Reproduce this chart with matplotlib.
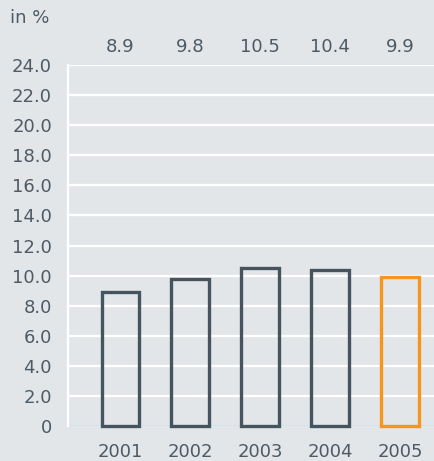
import matplotlib.pyplot as plt

years = ["2001", "2002", "2003", "2004", "2005"]
values = [8.9, 9.8, 10.5, 10.4, 9.9]
labels = ["8.9", "9.8", "10.5", "10.4", "9.9"]
yticks = [0, 2, 4, 6, 8, 10, 12, 14, 16, 18, 20, 22, 24]
ytick_labels = ["0"] + [f"{t:.1f}" for t in yticks[1:]]

bg = '#e3e6e9'
dark = '#45545e'
orange = '#f7941d'
text_col = '#4e5a64'

fig = plt.figure(figsize=(4.35, 4.61), dpi=100, facecolor=bg)
ax = fig.add_axes([68/435, 1 - 426/461, 1 - 68/435, (426 - 65)/461])
ax.set_facecolor(bg)

x = list(range(len(years)))
colors = [dark] * 4 + [orange]
bars = ax.bar(x, values, width=0.54, facecolor='none', edgecolor=colors, linewidth=2.4, zorder=3)
for b in bars:
    b.set_clip_on(False)

ax.set_ylim(0, 24)
ax.set_xlim(-0.75, 4.5)
ax.set_yticks(yticks)
ax.set_yticklabels(ytick_labels)
ax.set_xticks(x)
ax.set_xticklabels(years)
ax.tick_params(length=0, labelsize=13, colors=text_col)
ax.tick_params(axis='y', pad=11.5)
ax.tick_params(axis='x', pad=12)

for t in yticks[1:]:
    ax.axhline(t, color='white', linewidth=1.6, zorder=1)
ax.axhline(0, color='#cfe3ee', linewidth=1.2, zorder=2)

for s in ['top', 'right', 'bottom']:
    ax.spines[s].set_visible(False)
ax.spines['left'].set_color('white')
ax.spines['left'].set_linewidth(1.6)

for xi, lab in zip(x, labels):
    ax.text(xi, 25.2, lab, ha='center', va='center', fontsize=13, color=text_col, clip_on=False)

fig.text(10/435, 1 - 18/461, "in %", ha='left', va='center', fontsize=13, color=text_col)

plt.savefig("out.png", dpi=100, facecolor=bg)
